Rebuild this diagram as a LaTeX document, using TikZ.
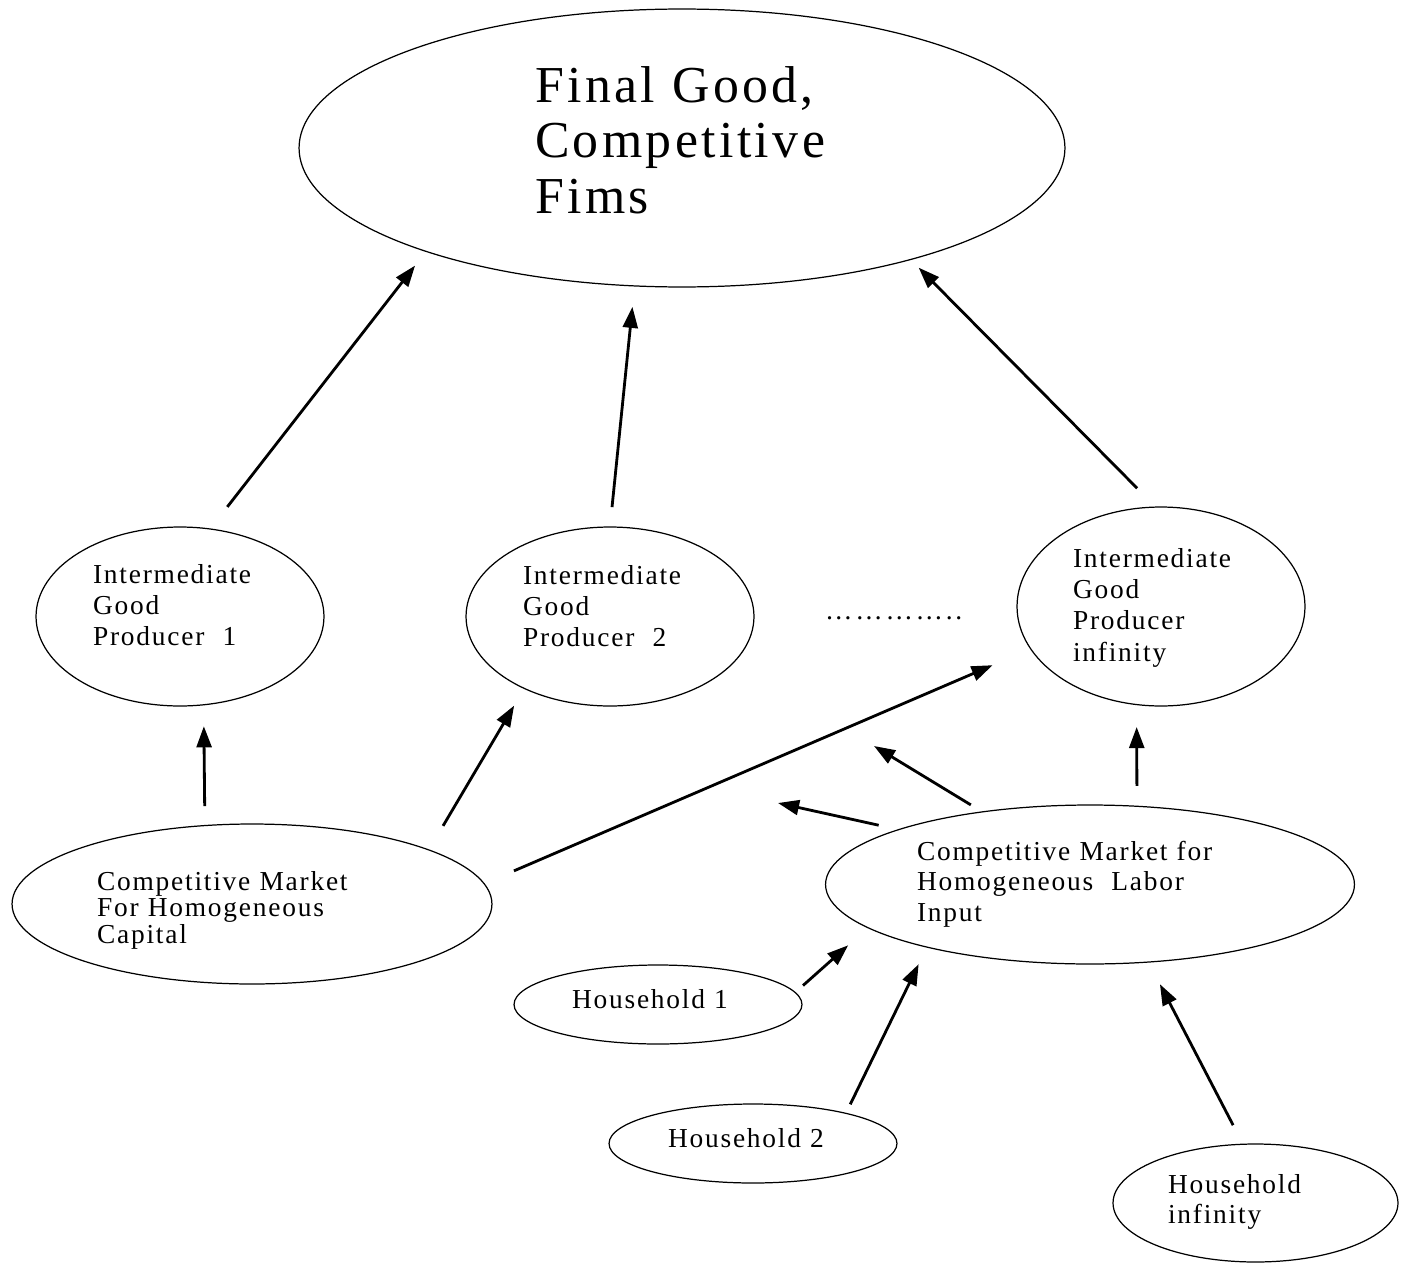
\documentclass[tikz,border=0pt]{standalone}
\usepackage{fontspec}
\setmainfont{Liberation Serif}
\newfontfamily\widefont[LetterSpace=10]{Liberation Serif}
\newfontfamily\spacedfont[LetterSpace=6.5]{Liberation Serif}
\usetikzlibrary{shapes.geometric,arrows.meta}
\lineskiplimit=-\maxdimen

\begin{document}
\begin{tikzpicture}[x=0.02cm,y=-0.02cm,->,>={Triangle[length=12pt,width=8.5pt]},
  oval/.style={draw,ellipse,line width=0.7pt,inner sep=0pt,outer sep=0pt,align=left,text height=0pt},
  flow/.style={line width=1.6pt},
  bigtext/.style={font=\spacedfont\fontsize{29.5}{31.6}\selectfont},
  igtext/.style={font=\spacedfont\fontsize{15.6}{17.9}\selectfont},
  mktext/.style={font=\spacedfont\fontsize{15.6}{17.6}\selectfont},
  capitaltext/.style={font=\spacedfont\fontsize{15.6}{15.2}\selectfont},
  hhtext/.style={font=\spacedfont\fontsize{15.6}{17.6}\selectfont}]
  \useasboundingbox (0,0) rectangle (1403,1264);

  \node[oval,bigtext,minimum width=15.32cm,minimum height=5.56cm,text width=5.88cm,text depth=1.84cm] (final) at (682,148) {Final Good,\\Competitive\\Fims};

  \node[oval,igtext,minimum width=5.76cm,minimum height=3.58cm,text width=3.48cm,text depth=1.34cm] (ig1) at (180,616.5) {Intermediate\\Good\\Producer~~1};
  \node[oval,igtext,minimum width=5.76cm,minimum height=3.58cm,text width=3.48cm,text depth=1.30cm] (ig2) at (610,616.5) {Intermediate\\Good\\Producer~~2};
  \node[oval,igtext,minimum width=5.76cm,minimum height=3.98cm,text width=3.52cm,text depth=1.58cm] (iginf) at (1161,606.5) {Intermediate\\Good\\Producer\\infinity};
  \node[font=\widefont\fontsize{15.6}{17.9}\selectfont,anchor=base west] (dots) at (819,619) {…………..};

  \node[oval,capitaltext,minimum width=9.6cm,minimum height=3.2cm,text width=6.2cm,text depth=0.56cm] (cmk) at (252,904) {Competitive Market\\For Homogeneous\\Capital};
  \node[oval,mktext,minimum width=10.58cm,minimum height=3.18cm,text width=6.92cm,text depth=0.98cm] (cml) at (1090,884.5) {Competitive Market for\\Homogeneous~~Labor\\Input};

  \node[oval,hhtext,minimum width=5.76cm,minimum height=1.58cm,text width=3.44cm,text height=0.14cm,text depth=0pt] (hh1) at (658,1004.5) {Household 1};
  \node[oval,hhtext,minimum width=5.76cm,minimum height=1.58cm,text width=3.4cm,text height=0.14cm,text depth=0pt] (hh2) at (753,1143.5) {Household 2};
  \node[oval,hhtext,minimum width=5.7cm,minimum height=2.36cm,text width=3.5cm,text depth=0.40cm] (hhinf) at (1255.5,1203) {Household\\infinity};

  \coordinate (gapA) at (874,746);
  \coordinate (gapB) at (778,803);

  % producers to the final good
  \path (ig1.71.4) edge[flow,shorten <=0.56cm,shorten >=0.36cm] (final.202.6);
  \path (ig2.90.8) edge[flow,shorten <=0.40cm,shorten >=0.42cm] (final.251.7);
  \path (iginf.93.1) edge[flow,shorten <=0.53cm,shorten >=0.23cm] (final.334.5);

  % capital market
  \path (cmk.121.5) edge[flow,shorten <=0.39cm,shorten >=0.43cm] (ig1.285.2);
  \path (cmk.17.0) edge[flow,shorten <=0.56cm,shorten >=0.40cm] (ig2.220.5);
  \path (cmk.5.3) edge[flow,shorten <=0.65cm,shorten >=0.83cm] (iginf.198.4);

  % labor market
  \path (cml.59.0) edge[flow,shorten <=0.41cm,shorten >=0.45cm] (iginf.256.3);
  \path (cml.146.3) edge[flow,shorten <=0.27cm] (gapA);
  \path (cml.164.6) edge[flow,shorten <=0.41cm] (gapB);

  % households
  \path (hh1.5.4) edge[flow,shorten <=0.21cm,shorten >=0.53cm] (cml.191.0);
  \path (hh2.18.5) edge[flow,shorten <=0.20cm,shorten >=0.38cm] (cml.201.9);
  \path (hhinf.102.0) edge[flow,shorten <=0.43cm,shorten >=0.50cm] (cml.307.1);
\end{tikzpicture}
\end{document}
